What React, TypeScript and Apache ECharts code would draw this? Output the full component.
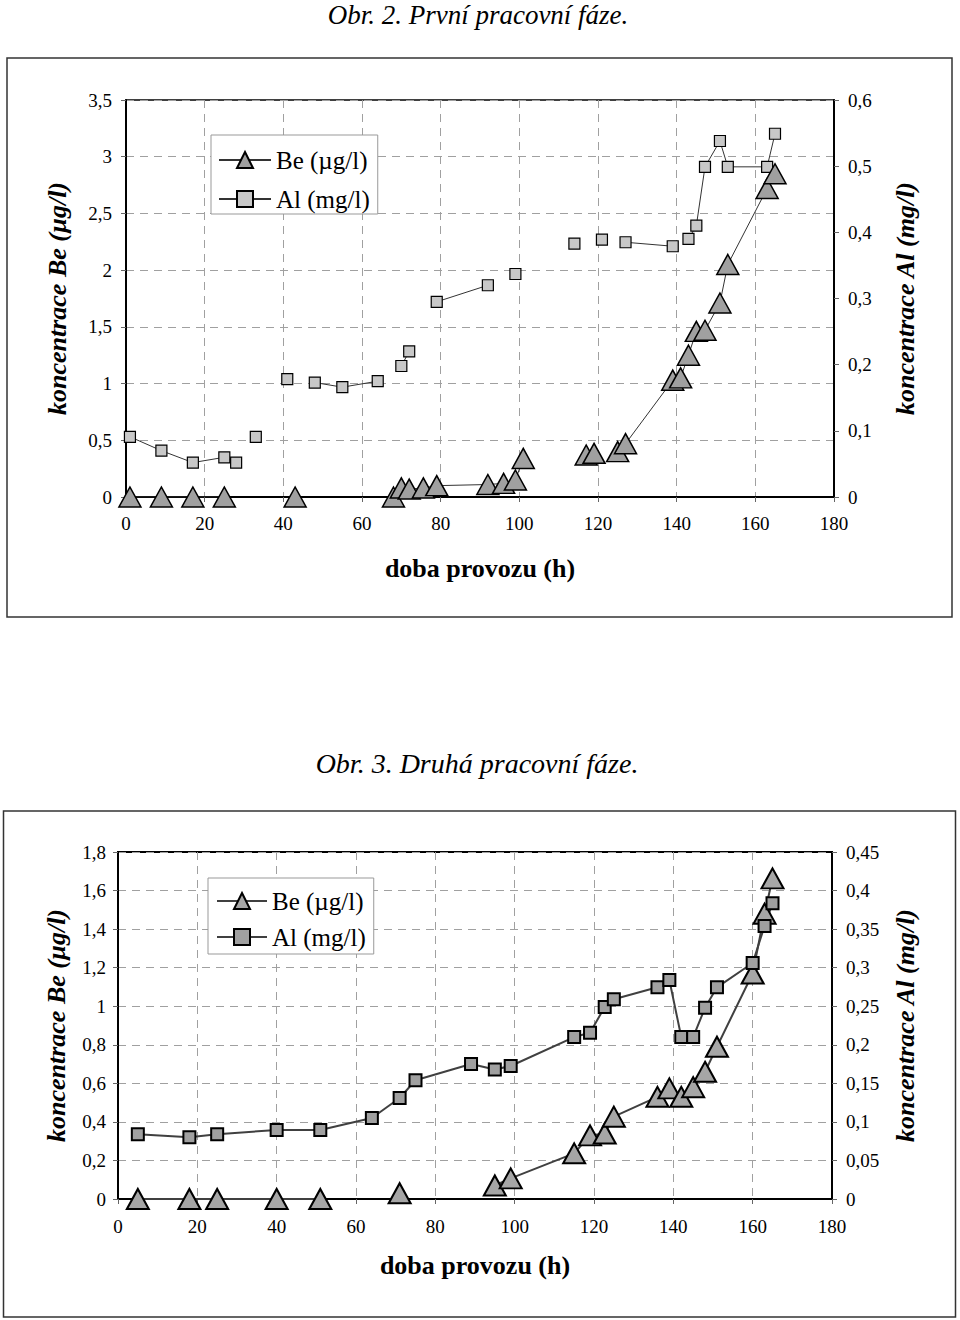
import React, { useEffect, useRef } from "react";
import * as echarts from "echarts";

// ---- Data (hours of operation, Be in µg/l, Al in mg/l); null = empty cell ----
const TOP_HOURS = [1, 9, 17, 25, 28, 30, 33, 37, 41, 43, 48, 55, 64, 68, 70, 72, 75.6, 79, 92, 96, 99, 101, 114, 117, 119, 121, 125, 127, 139, 141, 143, 145, 147.2, 151, 153, 163, 165];
const TOP_BE = [0, 0, 0, 0, null, null, null, null, null, 0, null, null, null, 0, 0.08, 0.07, 0.08, 0.1, 0.11, 0.12, 0.15, 0.34, null, 0.37, 0.385, null, 0.4, 0.47, 1.03, 1.05, 1.25, 1.46, 1.47, 1.71, 2.05, 2.72, 2.85];
const TOP_AL = [0.091, 0.07, 0.052, 0.06, 0.052, null, 0.091, null, 0.178, null, 0.173, 0.166, 0.175, null, 0.198, 0.22, null, 0.295, 0.32, null, 0.337, null, 0.383, null, null, 0.389, null, 0.385, 0.379, null, 0.39, 0.41, 0.499, 0.538, 0.499, 0.499, 0.549];

const BOT_HOURS = [5, 18, 25, 40, 51, 64, 71, 75, 89, 95, 99, 115, 119, 122.7, 125, 136, 139, 142, 145, 148, 151, 160, 163, 165];
const BOT_BE = [0, 0, 0, 0, 0, null, 0.03, null, null, 0.07, 0.107, 0.237, 0.33, 0.34, 0.427, 0.53, 0.574, 0.53, 0.58, 0.66, 0.79, 1.17, 1.48, 1.663];
const BOT_AL = [0.084, 0.08, 0.084, 0.0895, 0.0895, 0.105, 0.131, 0.154, 0.175, 0.168, 0.1725, 0.21, 0.2157, 0.249, 0.259, 0.2745, 0.284, 0.21, 0.21, 0.248, 0.2745, 0.306, 0.354, 0.3835];

const BE_NAME = "Be (µg/l)";
const AL_NAME = "Al (mg/l)";
const TITLE_TOP = "Obr. 2. První pracovní fáze.";
const TITLE_BOT = "Obr. 3. Druhá pracovní fáze.";
const X_NAME = "doba provozu (h)";
const Y_LEFT_NAME = "koncentrace Be (µg/l)";
const Y_RIGHT_NAME = "koncentrace Al (mg/l)";

const FONT = '"Liberation Serif", "Times New Roman", serif';

function pairs(hours: number[], values: (number | null)[]) {
  return hours.map((h, i) => [h, values[i] == null ? "-" : values[i]]);
}
const comma = (v: number) => String(Number(v.toFixed(3))).replace(".", ",");

const GRID_DASH = { color: "#a0a0a0", type: [8, 6], width: 1 };

function yAxis(gridIndex: number, max: number, interval: number, position: string, name: string, nameGap: number, split: boolean, margin: number) {
  return {
    type: "value",
    gridIndex,
    min: 0,
    max,
    interval,
    position,
    name,
    nameLocation: "middle",
    nameRotate: 90,
    nameGap,
    nameTextStyle: { fontFamily: FONT, fontSize: 26, fontWeight: "bold", fontStyle: "italic", color: "#000" },
    axisLine: { show: true, onZero: false, lineStyle: { color: "#000", width: 2 } },
    axisTick: { show: true, length: 5, lineStyle: { color: "#666" } },
    axisLabel: { fontFamily: FONT, fontSize: 19, color: "#000", margin, formatter: comma },
    splitLine: { show: split, lineStyle: GRID_DASH },
  };
}

function xAxis(gridIndex: number, nameGap: number, margin: number) {
  return {
    type: "value",
    gridIndex,
    min: 0,
    max: 180,
    interval: 20,
    name: X_NAME,
    nameLocation: "middle",
    nameGap,
    nameTextStyle: { fontFamily: FONT, fontSize: 26, fontWeight: "bold", color: "#000" },
    axisLine: { show: true, onZero: false, lineStyle: { color: "#000", width: 2 } },
    axisTick: { show: true, length: 5, lineStyle: { color: "#666" } },
    axisLabel: { fontFamily: FONT, fontSize: 19, color: "#000", margin },
    splitLine: { show: true, lineStyle: GRID_DASH },
  };
}

export default function App() {
  const ref = useRef<HTMLDivElement>(null);
  useEffect(() => {
    if (!ref.current) return;
    const chart = echarts.init(ref.current, null, { renderer: "svg" });
    const legendText = { fontFamily: FONT, fontSize: 25, color: "#000", lineHeight: 26 };
    chart.setOption({
      animation: false,
      backgroundColor: "#fff",
      grid: [
        { left: 126, top: 100, width: 708, height: 397, show: true, borderColor: "#000", borderWidth: 1.5, backgroundColor: "transparent" },
        { left: 118, top: 852, width: 714, height: 347, show: true, borderColor: "#000", borderWidth: 2, backgroundColor: "transparent" },
      ],
      xAxis: [xAxis(0, 58, 17), xAxis(1, 53, 18)],
      yAxis: [
        yAxis(0, 3.5, 0.5, "left", Y_LEFT_NAME, 56, true, 14),
        yAxis(0, 0.6, 0.1, "right", Y_RIGHT_NAME, 58, false, 14),
        yAxis(1, 1.8, 0.2, "left", Y_LEFT_NAME, 49, true, 12),
        yAxis(1, 0.45, 0.05, "right", Y_RIGHT_NAME, 60, false, 14),
      ],
      legend: [
        {
          left: 211,
          top: 135,
          orient: "vertical",
          data: [BE_NAME, AL_NAME],
          itemWidth: 52,
          itemHeight: 20,
          itemGap: 13,
          padding: [12, 8, 2, 7],
          backgroundColor: "#fff",
          borderColor: "#999",
          borderWidth: 1,
          selectedMode: false,
          textStyle: legendText,
        },
        {
          left: 208,
          top: 878,
          orient: "vertical",
          data: [
            { name: BE_NAME, itemStyle: { color: "#a6a6a6", borderColor: "#000", borderWidth: 2 }, lineStyle: { color: "#404040", width: 2 } },
            { name: AL_NAME, itemStyle: { color: "#a0a0a0", borderColor: "#000", borderWidth: 2 }, lineStyle: { color: "#404040", width: 2 } },
          ],
          itemWidth: 50,
          itemHeight: 20,
          itemGap: 10,
          padding: [10, 8, 4, 8],
          backgroundColor: "#fff",
          borderColor: "#999",
          borderWidth: 1,
          selectedMode: false,
          textStyle: legendText,
        },
      ],
      graphic: [
        { type: "rect", shape: { x: 7, y: 58, width: 945, height: 559 }, style: { fill: "none", stroke: "#333", lineWidth: 1.5 }, z: -1 },
        { type: "rect", shape: { x: 3.5, y: 811, width: 952, height: 506 }, style: { fill: "none", stroke: "#333", lineWidth: 1.5 }, z: -1 },
        { type: "text", x: 478, y: 15, style: { text: TITLE_TOP, fontFamily: FONT, fontSize: 27, fontStyle: "italic", fill: "#000", align: "center", verticalAlign: "middle" } },
        { type: "text", x: 477, y: 763, style: { text: TITLE_BOT, fontFamily: FONT, fontSize: 28, fontStyle: "italic", fill: "#000", align: "center", verticalAlign: "middle" } },
      ],
      series: [
        {
          type: "line",
          name: AL_NAME,
          xAxisIndex: 0,
          yAxisIndex: 1,
          data: pairs(TOP_HOURS, TOP_AL),
          connectNulls: false,
          symbol: "rect",
          symbolSize: 11,
          lineStyle: { color: "#333", width: 1 },
          itemStyle: { color: "#c8c8c8", borderColor: "#000", borderWidth: 1.2 },
          silent: true,
        },
        {
          type: "line",
          name: BE_NAME,
          xAxisIndex: 0,
          yAxisIndex: 0,
          data: pairs(TOP_HOURS, TOP_BE),
          connectNulls: false,
          symbol: "triangle",
          symbolSize: [22, 20],
          lineStyle: { color: "#333", width: 1 },
          itemStyle: { color: "#a0a0a0", borderColor: "#000", borderWidth: 1.5 },
          silent: true,
        },
        {
          type: "line",
          name: BE_NAME,
          xAxisIndex: 1,
          yAxisIndex: 2,
          data: pairs(BOT_HOURS, BOT_BE),
          connectNulls: false,
          symbol: "triangle",
          symbolSize: [22, 20],
          lineStyle: { color: "#404040", width: 2 },
          itemStyle: { color: "#a6a6a6", borderColor: "#000", borderWidth: 2 },
          silent: true,
        },
        {
          type: "line",
          name: AL_NAME,
          xAxisIndex: 1,
          yAxisIndex: 3,
          data: pairs(BOT_HOURS, BOT_AL),
          connectNulls: false,
          symbol: "rect",
          symbolSize: 12,
          lineStyle: { color: "#404040", width: 2 },
          itemStyle: { color: "#a0a0a0", borderColor: "#000", borderWidth: 2 },
          silent: true,
        },
      ],
    });
    return () => chart.dispose();
  }, []);
  return <div ref={ref} style={{ position: "absolute", left: 0, top: 0, width: 960, height: 1320 }} />;
}
